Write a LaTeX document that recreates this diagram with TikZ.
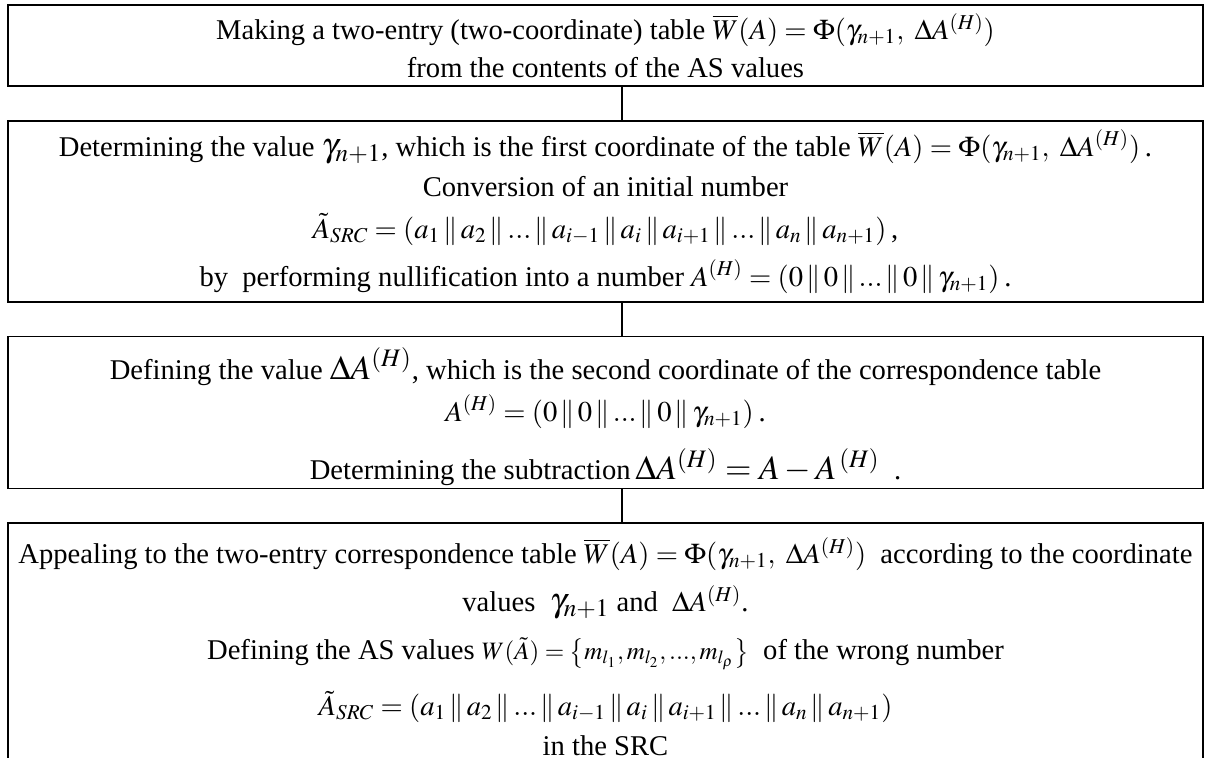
\documentclass[tikz,border=0pt]{standalone}
\usepackage{mathptmx}
\usepackage[no-math]{fontspec}
\setmainfont{Liberation Serif}
\tikzset{
  stagebox/.style={draw,line width=0.8pt,minimum width=597.5pt,inner sep=0pt,
    align=center,font=\fontsize{14.3}{19}\selectfont},
  stageLink/.style={line width=0.8pt}
}
\newcommand{\Wtab}{\overline{W}(A)=\Phi(\gamma_{n+1},\ \Delta A^{(H)})}
\newcommand{\Asrc}{\tilde{A}_{SRC}=(a_1\,\|\,a_2\,\|\,...\,\|\,a_{i-1}\,\|\,a_i\,\|\,a_{i+1}\,\|\,...\,\|\,a_n\,\|\,a_{n+1})}
\newcommand{\AH}{A^{(H)}=(0\,\|\,0\,\|\,...\,\|\,0\,\|\,\gamma_{n+1})}
\newcommand{\largemath}[1]{{\fontsize{17}{17}\selectfont#1}}
\newcommand{\smallmath}[1]{{\fontsize{12.5}{12.5}\selectfont#1}}

\begin{document}
\begin{tikzpicture}[x=0.5pt,y=-0.5pt]
  \useasboundingbox (0,0) rectangle (1211,758);
  \clip (0,0) rectangle (1211,758);
  \node[stagebox,minimum height=40.5pt] (S1) at (605.5,45.5)
    {Making a two-entry (two-coordinate) table $\Wtab$\\
     from the contents of the AS values};
  \node[stagebox,minimum height=90.5pt] (S2) at (605.5,211.5)
    {Determining the value \largemath{$\gamma_{n+1}$}, which is the first coordinate of the table $\Wtab$\,.\\[1pt]
     Conversion of an initial number\\[2pt]
     $\Asrc$\,,\\[5pt]
     by\ \ performing nullification into a number $\AH$\,.};
  \node[stagebox,minimum height=76pt] (S3) at (605.5,412.5)
    {\rule{0pt}{20pt}Defining the value \largemath{$\Delta A^{(H)}$}, which is the second coordinate of the correspondence table\\[2pt]
     $\AH$\,.\\[9pt]
     Determining the subtraction\,\largemath{$\Delta A^{(H)}=A-A^{\,(H)}$}\ \ .};
  \node[stagebox,minimum height=123.5pt] (S4) at (605.5,646.5)
    {Appealing to the two-entry correspondence table $\Wtab$\ \ according to the coordinate\\[5pt]
     values\ \ \largemath{$\gamma_{n+1}$} and\ \ $\Delta A^{(H)}$.\\[5pt]
     Defining the AS values \smallmath{$W(\tilde{A})=\left\{m_{l_1},m_{l_2},...,m_{l_\rho}\right\}$}\ \ of the wrong number\\[9pt]
     $\Asrc$\\[1pt]
     in the SRC};
  \coordinate (linkx) at (622,0);
  \draw[stageLink] (S1.south -| linkx) -- (S2.north -| linkx)
                   (S2.south -| linkx) -- (S3.north -| linkx)
                   (S3.south -| linkx) -- (S4.north -| linkx);
\end{tikzpicture}
\end{document}
